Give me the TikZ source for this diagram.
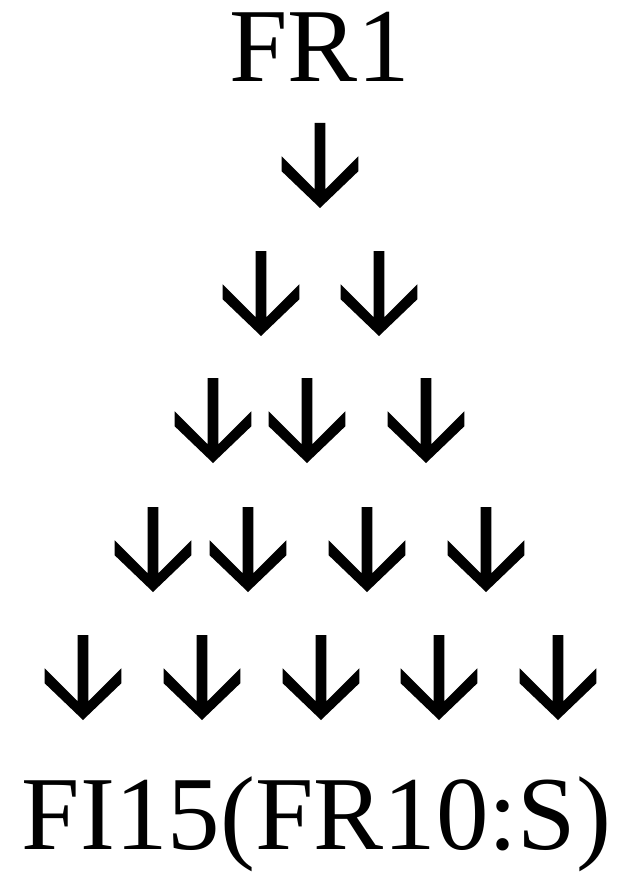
\documentclass[tikz,border=0pt]{standalone}
\usepackage{fontspec}
\setmainfont{Liberation Serif}
\tikzset{
  lbl/.style={font=\fontsize{105}{110}\selectfont, inner sep=0pt, anchor=base},
  darrow/.pic={
    \fill[black] (0,0) -- (-38.3,-36.7) -- (-38.3,-51.7) -- (-5.3,-18.7) -- (-5.3,-85)
      -- (5.3,-85) -- (5.3,-18.7) -- (38.3,-51.7) -- (38.3,-36.7) -- cycle;
  }
}
\begin{document}
\begin{tikzpicture}[x=1pt,y=-1pt]
\useasboundingbox (0,0) rectangle (628,872);
\node[lbl] (top) at (319.5,82) {FR1};
% row 1
\pic (a11) at (320,208) {darrow};
% row 2
\pic (a21) at (261,336) {darrow};
\pic (a22) at (379,336) {darrow};
% row 3
\pic (a31) at (213,463) {darrow};
\pic (a32) at (307,463) {darrow};
\pic (a33) at (426,463) {darrow};
% row 4
\pic (a41) at (153,592) {darrow};
\pic (a42) at (248,592) {darrow};
\pic (a43) at (367,592) {darrow};
\pic (a44) at (486,592) {darrow};
% row 5
\pic (a51) at (83,720) {darrow};
\pic (a52) at (202,720) {darrow};
\pic (a53) at (321,720) {darrow};
\pic (a54) at (439,720) {darrow};
\pic (a55) at (558,720) {darrow};
\node[lbl] (bottom) at (316.5,849) {FI15(FR10:S)};
\end{tikzpicture}
\end{document}
